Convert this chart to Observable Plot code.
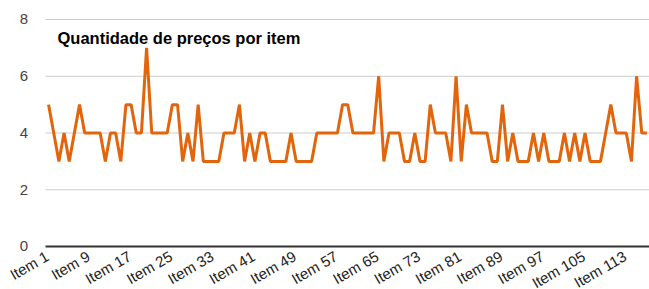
<!DOCTYPE html>
<html><head><meta charset="utf-8">
<script src="https://cdn.jsdelivr.net/npm/d3@7"></script>
<script src="https://cdn.jsdelivr.net/npm/@observablehq/plot@0.6"></script>
<style>body{margin:0;background:#fff;overflow:hidden}</style>
</head><body><div id="chart"></div>
<script>
const title = "Quantidade de preços por item";
const items = d3.range(1, 118).map(i => "Item " + i);
const values = [
  5,4,3,4,3,4,5,4,4,4,
  4,3,4,4,3,5,5,4,4,7,
  4,4,4,4,5,5,3,4,3,5,
  3,3,3,3,4,4,4,5,3,4,
  3,4,4,3,3,3,3,4,3,3,
  3,3,4,4,4,4,4,5,5,4,
  4,4,4,4,6,3,4,4,4,3,
  3,4,3,3,5,4,4,4,3,6,
  3,5,4,4,4,4,3,3,5,3,
  4,3,3,3,4,3,4,3,3,3,
  4,3,4,3,4,3,3,3,4,5,
  4,4,4,3,6,4,4
];
const yTicks = [0, 2, 4, 6, 8];
const xTickLabels = ["Item 1","Item 9","Item 17","Item 25","Item 33","Item 41","Item 49","Item 57","Item 65","Item 73","Item 81","Item 89","Item 97","Item 105","Item 113"];

const data = items.map((item, i) => ({item, value: values[i]}));

const chart = Plot.plot({
  width: 649, height: 289,
  marginLeft: 45.5, marginRight: 0, marginTop: 19, marginBottom: 43,
  style: {fontFamily: "Arial, 'Liberation Sans', sans-serif", background: "#fff", overflow: "visible"},
  x: {type: "point", domain: items, padding: 0.5, round: false},
  y: {domain: [0, 8]},
  marks: [
    Plot.gridY(yTicks.slice(1), {stroke: "#ccc", strokeOpacity: 1, strokeWidth: 1}),
    Plot.ruleY([0], {stroke: "#333", strokeWidth: 2}),
    Plot.axisY(yTicks, {tickSize: 0, tickPadding: 18, fontSize: 15, fill: "#444", label: null}),
    Plot.axisX(xTickLabels, {tickSize: 0, tickPadding: 9, dx: -1, tickRotate: -30, fontSize: 15, fill: "#222", label: null}),
    Plot.line(data, {x: "item", y: "value", stroke: "#e3650b", strokeWidth: 3, strokeLinejoin: "miter", strokeLinecap: "butt"}),
    Plot.text([title], {frameAnchor: "top-left", dx: 11.5, dy: 12.5, fontWeight: "bold", fontSize: 16.5, fill: "#000"})
  ]
});
document.getElementById("chart").appendChild(chart);
</script>
</body></html>
